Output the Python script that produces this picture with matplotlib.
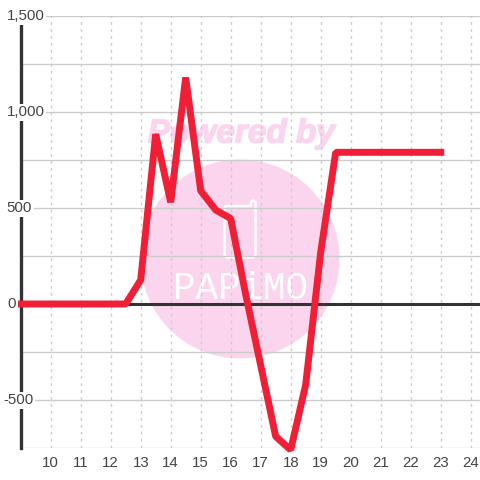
import matplotlib
matplotlib.use('Agg')
import matplotlib.pyplot as plt
import matplotlib.patheffects as pe
from matplotlib.patches import Circle

hours = [9, 9.5, 10, 10.5, 11, 11.5, 12, 12.5, 13, 13.5, 14, 14.5, 15, 15.5, 16,
         16.5, 17, 17.5, 18, 18.5, 19, 19.5, 20, 20.5, 21, 21.5, 22, 22.5, 23]
values = [0, 0, 0, 0, 0, 0, 0, 0, 125, 885, 530, 1180, 590, 490, 445,
          50, -320, -690, -760, -420, 270, 790, 790, 790, 790, 790, 790, 790, 790]
x_ticks = list(range(10, 25))
y_major = [-500, 0, 500, 1000, 1500]
y_minor = [-750, -250, 250, 750, 1250]
y_labels = ['-500', '0', '500', '1,000', '1,500']
y_label_left = [3, 7.5, 6.5, 6.5, 6.5]

plt.rcParams['font.family'] = ['Liberation Sans', 'DejaVu Sans']
W = H = 480
fig = plt.figure(figsize=(4.8, 4.8), dpi=100, facecolor='white')
L, R, T, B = 20.7, 480, 16, 448
ax = fig.add_axes([L / W, 1 - B / H, (R - L) / W, (B - T) / H])
ax.set_xlim(9, 9 + (R - L) / 30)
ax.set_ylim(-750, 1500)
ax.patch.set_alpha(0)
for s in ax.spines.values():
    s.set_visible(False)

# watermark layer in pixel coordinates
bg = fig.add_axes([0, 0, 1, 1], zorder=-1)
bg.set_xlim(0, W)
bg.set_ylim(H, 0)
bg.axis('off')
pink = '#fbd5ee'
bg.add_patch(Circle((240, 259), 99.5, fc=pink, ec='none'))
bg.text(241.5, 134, 'Powered by', color=pink, fontsize=24, fontweight='bold',
        fontstyle='italic', ha='center', va='center', family=['Liberation Sans'],
        path_effects=[pe.withStroke(linewidth=1.0, foreground=pink)])
bg.plot([250, 226, 224.5, 224.5, 227, 253, 255.5, 255.5, 253, 251, 251],
        [206, 206, 208, 255, 257.5, 257.5, 255, 202, 200.5, 202, 206],
        color='white', lw=1.8, solid_joinstyle='round')
bg.text(240, 289, 'PAPiMO', color='white', fontsize=27, ha='center', va='center',
        family=['Liberation Mono'])

ax.set_axisbelow(True)
ax.set_xticks(x_ticks)
ax.set_yticks(y_major)
ax.set_yticks(y_minor, minor=True)
ax.set_xticklabels([str(t) for t in x_ticks], fontsize=10.8, color='#444444')
ax.set_yticklabels([])
ax.tick_params(axis='both', which='both', length=0)
ax.tick_params(axis='x', pad=6)
ax.grid(True, axis='y', which='both', color='#cccccc', lw=1.0)
ax.grid(True, axis='x', color='#cccccc', lw=1, ls=(0, (2, 3)))

ax.axhline(0, color='#333333', lw=2.2, zorder=2.5)
ax.axvline(9, color='#333333', lw=2.4, zorder=2.5, clip_on=False)

ax.plot(hours, values, color='#f01f36', lw=5, solid_joinstyle='bevel',
        solid_capstyle='projecting', clip_on=False, zorder=4)

for v, t, left in zip(y_major, y_labels, y_label_left):
    px = 304.5 - v * 96 / 500
    fig.text(left / W, 1 - px / H, t, fontsize=10.8, color='#444444', ha='left',
             va='center', zorder=3,
             bbox=dict(fc='white', ec='none', pad=1.2))

fig.savefig('out.png', dpi=100, facecolor='white')
